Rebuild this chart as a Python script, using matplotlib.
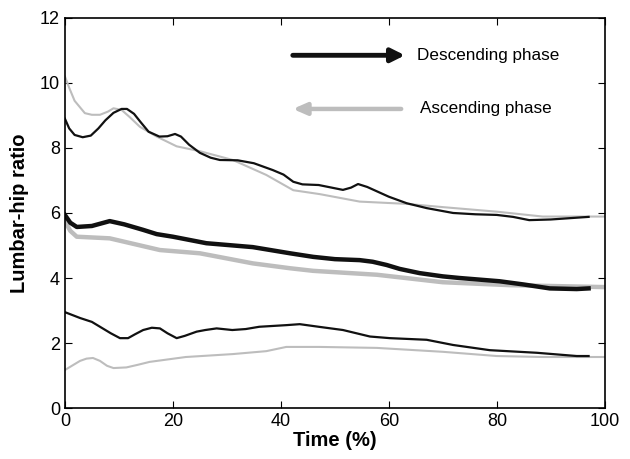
import numpy as np
import matplotlib
matplotlib.use('Agg')
import matplotlib.pyplot as plt

plt.rcParams['font.family'] = ['Liberation Sans', 'DejaVu Sans']

# descending phase, mean +/- SD
desc_up_x = [0, 0.8, 1.8, 3.3, 4.8, 6.2, 7.5, 9, 10.5, 11.5, 12.8, 14, 15.5, 17.5, 19, 20.4, 21.5, 23, 25, 27, 28.7, 32, 35, 38.5, 40.5, 42.3, 44, 47, 51.5, 53, 54.3, 56, 58, 60, 63.3, 67, 71.9, 76, 80, 83, 86, 90, 93.5, 97]
desc_up_y = [8.9, 8.6, 8.4, 8.33, 8.38, 8.6, 8.85, 9.08, 9.2, 9.2, 9.05, 8.8, 8.5, 8.35, 8.36, 8.43, 8.35, 8.1, 7.85, 7.7, 7.63, 7.62, 7.53, 7.32, 7.18, 6.96, 6.88, 6.86, 6.71, 6.78, 6.89, 6.8, 6.65, 6.5, 6.3, 6.15, 6.0, 5.96, 5.94, 5.88, 5.78, 5.8, 5.84, 5.88]
desc_mean_x = [0, 1, 2.2, 5, 8.3, 11, 14.5, 17, 20, 26.2, 34.8, 41.7, 46, 50, 54.6, 57, 59.6, 62, 65.7, 70, 73.1, 80.5, 85, 89.8, 94.8, 97]
desc_mean_y = [5.94, 5.7, 5.57, 5.6, 5.75, 5.65, 5.48, 5.35, 5.27, 5.07, 4.95, 4.76, 4.65, 4.58, 4.55, 4.5, 4.4, 4.28, 4.15, 4.05, 4.0, 3.9, 3.8, 3.68, 3.66, 3.68]
desc_lo_x = [0, 2.8, 5, 6.5, 8.5, 10.2, 11.7, 13, 14.5, 16.1, 17.6, 19, 20.7, 22.2, 24.4, 26, 28.1, 31, 33.5, 36, 41, 43.5, 47, 51.5, 54, 56.5, 60.2, 67, 71.9, 78.7, 87.4, 94.8, 97]
desc_lo_y = [2.95, 2.77, 2.65, 2.5, 2.3, 2.15, 2.15, 2.27, 2.4, 2.47, 2.45, 2.3, 2.15, 2.22, 2.35, 2.4, 2.45, 2.4, 2.43, 2.5, 2.55, 2.58, 2.5, 2.4, 2.3, 2.2, 2.15, 2.1, 1.94, 1.78, 1.7, 1.6, 1.6]

# ascending phase, mean +/- SD
asc_up_x = [0, 0.8, 1.8, 3.7, 5, 6.5, 8, 9, 10.5, 12, 13.9, 17, 20.7, 25, 31.1, 37.3, 42.3, 47.2, 54.6, 63.3, 70, 80, 88.5, 100]
asc_up_y = [10.2, 9.85, 9.45, 9.07, 9.02, 9.02, 9.12, 9.22, 9.17, 8.95, 8.65, 8.35, 8.05, 7.9, 7.63, 7.17, 6.7, 6.58, 6.35, 6.28, 6.18, 6.04, 5.89, 5.89]
asc_mean_x = [0, 1, 2.2, 8.3, 17.6, 25, 34.8, 41.7, 46, 57.8, 70, 82.4, 100]
asc_mean_y = [5.75, 5.45, 5.27, 5.22, 4.86, 4.76, 4.45, 4.3, 4.22, 4.1, 3.87, 3.78, 3.72]
asc_lo_x = [0, 1.5, 2.8, 4, 5.2, 6.5, 7.8, 9, 11.4, 13.5, 15.7, 22.4, 31.1, 37.3, 41, 47.2, 57.8, 70, 80, 88.5, 100]
asc_lo_y = [1.17, 1.32, 1.45, 1.52, 1.54, 1.45, 1.3, 1.23, 1.25, 1.33, 1.42, 1.57, 1.66, 1.75, 1.88, 1.88, 1.85, 1.73, 1.6, 1.57, 1.57]

black = '#111111'
gray = '#bdbdbd'

fig = plt.figure(figsize=(6.3, 4.59), dpi=100)
ax = fig.add_axes([0.103, 0.111, 0.857, 0.850])

ax.plot(asc_up_x, asc_up_y, color=gray, lw=1.5)
ax.plot(asc_lo_x, asc_lo_y, color=gray, lw=1.5)
ax.plot(asc_mean_x, asc_mean_y, color=gray, lw=3.2)
ax.plot(desc_up_x, desc_up_y, color=black, lw=1.6)
ax.plot(desc_lo_x, desc_lo_y, color=black, lw=1.6)
ax.plot(desc_mean_x, desc_mean_y, color=black, lw=3.2)

# legend drawn as arrows
ax.annotate('', xy=(63.5, 10.85), xytext=(41.7, 10.85),
            arrowprops=dict(arrowstyle='-|>,head_length=0.8,head_width=0.4', color=black, lw=3.5))
ax.text(65.3, 10.85, 'Descending phase', fontsize=12.3, va='center', ha='left')
ax.annotate('', xy=(41.7, 9.2), xytext=(62.8, 9.2),
            arrowprops=dict(arrowstyle='-|>,head_length=0.8,head_width=0.35', color=gray, lw=3.2))
ax.text(65.8, 9.2, 'Ascending phase', fontsize=12.3, va='center', ha='left')

ax.set_xlim(0, 100)
ax.set_ylim(0, 12)
ax.set_xticks(np.arange(0, 101, 20))
ax.set_yticks(np.arange(0, 13, 2))
ax.tick_params(direction='in', top=True, right=True, labelsize=13, length=5)
for s in ax.spines.values():
    s.set_linewidth(1.2)
ax.set_xlabel('Time (%)', fontsize=14.5, fontweight='bold', labelpad=1)
ax.set_ylabel('Lumbar-hip ratio', fontsize=14.5, fontweight='bold', labelpad=8)

fig.savefig('out.png', dpi=100)
